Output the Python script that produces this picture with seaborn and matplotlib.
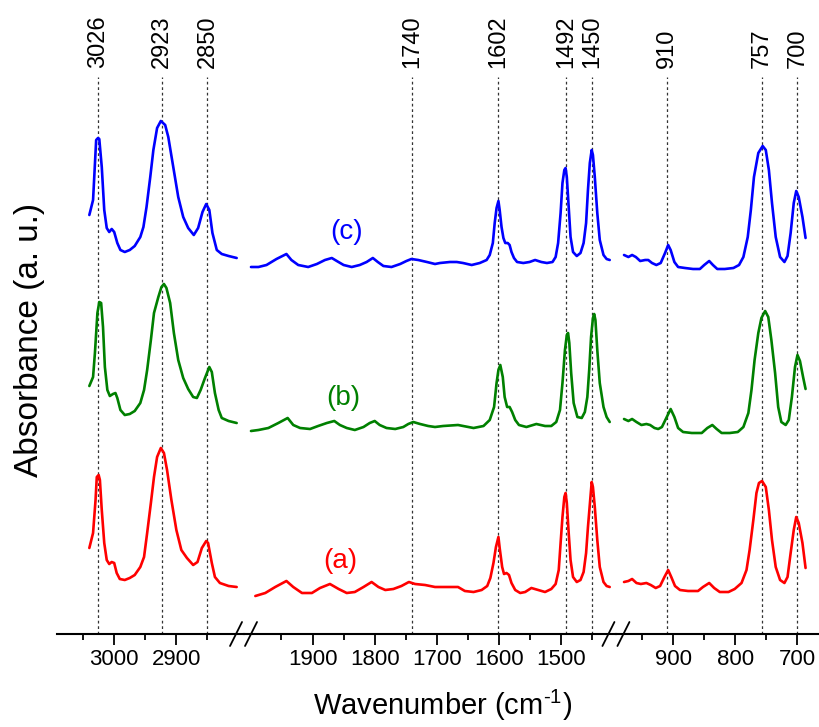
import matplotlib
matplotlib.use("Agg")
import matplotlib.pyplot as plt
from matplotlib.lines import Line2D
import seaborn as sn

sn.set_style("white")
plt.rcParams["font.family"] = ["Liberation Sans", "DejaVu Sans"]
plt.rcParams["mathtext.default"] = "regular"
plt.rcParams.update({"text.color": "black", "xtick.color": "black", "axes.labelcolor": "black"})

# spectra (wavenumber in cm-1, absorbance in a.u., curves stacked)
# segment 1: 3100-2800
wn1_c = [3040, 3034, 3029, 3026, 3024, 3020, 3016, 3012, 3008, 3004, 3000, 2995, 2990, 2983,
         2975, 2967, 2958, 2953, 2948, 2942, 2937, 2931, 2925, 2918, 2913, 2905, 2897, 2889,
         2881, 2872, 2865, 2858, 2852, 2847, 2842, 2835, 2827, 2816, 2803]
ab1_c = [4.19, 4.34, 4.94, 4.96, 4.95, 4.67, 4.24, 4.06, 4.02, 4.05, 4.02, 3.91, 3.84, 3.82,
         3.84, 3.88, 3.97, 4.07, 4.27, 4.57, 4.84, 5.06, 5.13, 5.09, 4.97, 4.67, 4.37, 4.17,
         4.06, 3.99, 4.06, 4.22, 4.30, 4.24, 4.01, 3.84, 3.80, 3.78, 3.76]
wn1_b = [3040, 3034, 3031, 3027, 3024, 3021, 3018, 3015, 3011, 3007, 3002, 2998, 2995, 2990,
         2983, 2975, 2967, 2958, 2952, 2947, 2941, 2936, 2929, 2924, 2920, 2916, 2910, 2904,
         2897, 2889, 2881, 2873, 2867, 2861, 2854, 2847, 2843, 2838, 2832, 2827, 2816, 2803]
ab1_b = [2.48, 2.57, 2.81, 3.21, 3.32, 3.31, 3.07, 2.67, 2.44, 2.38, 2.40, 2.41, 2.36, 2.24,
         2.19, 2.20, 2.23, 2.31, 2.44, 2.64, 2.94, 3.21, 3.37, 3.47, 3.50, 3.46, 3.31, 3.01,
         2.74, 2.56, 2.45, 2.37, 2.36, 2.44, 2.56, 2.67, 2.62, 2.41, 2.24, 2.16, 2.13, 2.11]
wn1_a = [3040, 3034, 3030, 3028, 3025, 3023, 3020, 3016, 3012, 3008, 3004, 3000, 2996, 2991,
         2983, 2975, 2967, 2958, 2952, 2947, 2941, 2936, 2931, 2925, 2920, 2915, 2908, 2900,
         2892, 2883, 2873, 2866, 2859, 2852, 2849, 2843, 2838, 2830, 2816, 2803]
ab1_a = [0.86, 1.01, 1.34, 1.57, 1.59, 1.54, 1.24, 0.91, 0.74, 0.70, 0.72, 0.71, 0.61, 0.55,
         0.54, 0.56, 0.59, 0.67, 0.77, 1.01, 1.31, 1.57, 1.77, 1.86, 1.81, 1.64, 1.34, 1.04,
         0.84, 0.76, 0.69, 0.72, 0.86, 0.93, 0.91, 0.71, 0.57, 0.51, 0.48, 0.47]

# segment 2: 2000-1420
wn2_c = [1999, 1987, 1974, 1958, 1942, 1934, 1923, 1907, 1893, 1880, 1869, 1861, 1850, 1837,
         1824, 1813, 1803, 1795, 1786, 1773, 1759, 1749, 1741, 1730, 1716, 1703,
         1695, 1679, 1668, 1658, 1644, 1631, 1620, 1615, 1610, 1607, 1604, 1601, 1599, 1596,
         1593, 1590, 1586, 1583, 1580, 1576, 1571, 1561, 1551, 1542, 1532, 1523, 1514, 1509,
         1505, 1501, 1498, 1495, 1493, 1491, 1488, 1485, 1481, 1475, 1469, 1464, 1460, 1457,
         1454, 1451, 1449, 1446, 1442, 1438, 1432, 1427, 1422]
ab2_c = [3.67, 3.67, 3.69, 3.75, 3.80, 3.74, 3.69, 3.67, 3.70, 3.74, 3.76, 3.73, 3.69, 3.67,
         3.69, 3.72, 3.76, 3.72, 3.68, 3.67, 3.70, 3.73, 3.75, 3.74, 3.72, 3.70,
         3.71, 3.72, 3.72, 3.71, 3.69, 3.71, 3.74, 3.79, 3.91, 4.11, 4.26, 4.33, 4.24, 4.07,
         3.96, 3.91, 3.91, 3.89, 3.82, 3.76, 3.72, 3.71, 3.72, 3.74, 3.72, 3.71, 3.72, 3.77,
         3.91, 4.21, 4.51, 4.64, 4.66, 4.57, 4.27, 3.97, 3.82, 3.78, 3.81, 3.91, 4.11, 4.44,
         4.71, 4.84, 4.79, 4.57, 4.21, 3.94, 3.79, 3.75, 3.74]
wn2_b = [1999, 1987, 1971, 1955, 1940, 1931, 1920, 1904, 1891, 1877, 1865, 1856, 1845, 1832,
         1818, 1808, 1800, 1792, 1781, 1767, 1754, 1746, 1738, 1727, 1714, 1703,
         1690, 1666, 1641, 1625, 1615, 1608, 1604, 1601, 1598, 1594, 1591, 1587, 1583, 1579,
         1574, 1568, 1556, 1540, 1526, 1516, 1508, 1502, 1498, 1494, 1491, 1489, 1487, 1484,
         1480, 1474, 1467, 1462, 1458, 1455, 1452, 1449, 1447, 1445, 1442, 1438, 1432, 1427, 1422]
ab2_b = [2.03, 2.04, 2.06, 2.11, 2.16, 2.09, 2.06, 2.05, 2.08, 2.11, 2.13, 2.09, 2.06, 2.04,
         2.07, 2.11, 2.13, 2.09, 2.06, 2.05, 2.07, 2.10, 2.12, 2.10, 2.08, 2.07,
         2.08, 2.09, 2.06, 2.08, 2.14, 2.27, 2.51, 2.64, 2.69, 2.57, 2.37, 2.27, 2.27, 2.22,
         2.14, 2.09, 2.07, 2.10, 2.08, 2.08, 2.12, 2.24, 2.51, 2.84, 2.99, 3.01, 2.91, 2.61,
         2.31, 2.17, 2.16, 2.22, 2.37, 2.64, 2.97, 3.16, 3.20, 3.14, 2.84, 2.51, 2.27, 2.17, 2.12]
wn2_a = [1992, 1976, 1960, 1942, 1931, 1917, 1901, 1888, 1872, 1858, 1845, 1832, 1818, 1805,
         1794, 1783, 1770, 1757, 1745, 1735, 1719, 1703,
         1695, 1679, 1666, 1655, 1641, 1628, 1619, 1614, 1609, 1605, 1601, 1599, 1595, 1592,
         1588, 1584, 1580, 1574, 1566, 1558, 1548, 1537, 1526, 1516, 1509, 1504, 1501, 1498,
         1495, 1493, 1491, 1488, 1485, 1481, 1475, 1469, 1464, 1460, 1457, 1453, 1451, 1449,
         1446, 1442, 1438, 1432, 1427, 1422]
ab2_a = [0.38, 0.41, 0.47, 0.53, 0.47, 0.41, 0.41, 0.46, 0.50, 0.45, 0.41, 0.42, 0.47, 0.52,
         0.47, 0.44, 0.45, 0.48, 0.52, 0.50, 0.49, 0.47,
         0.47, 0.47, 0.47, 0.43, 0.42, 0.44, 0.48, 0.56, 0.71, 0.87, 0.97, 0.86, 0.67, 0.60,
         0.61, 0.59, 0.51, 0.44, 0.41, 0.42, 0.46, 0.44, 0.42, 0.45, 0.50, 0.64, 0.91, 1.17,
         1.37, 1.41, 1.31, 1.01, 0.74, 0.57, 0.52, 0.54, 0.62, 0.81, 1.07, 1.37, 1.52, 1.47,
         1.27, 0.94, 0.67, 0.52, 0.48, 0.47]

# segment 3: 980-685
wn3_c = [979, 972, 966, 960, 953, 945, 940, 934, 927, 920, 913, 908, 904, 898, 892, 881, 868,
         857, 850, 842, 836, 829, 817, 803, 794, 787, 780, 775, 770, 763, 756, 751, 746, 741,
         735, 728, 721, 716, 711, 706, 702, 698, 692, 687]
ab3_c = [3.79, 3.77, 3.79, 3.77, 3.73, 3.74, 3.74, 3.71, 3.69, 3.71, 3.81, 3.89, 3.84, 3.72,
         3.67, 3.66, 3.65, 3.65, 3.69, 3.73, 3.69, 3.65, 3.65, 3.66, 3.69, 3.77, 3.97, 4.24,
         4.57, 4.81, 4.88, 4.84, 4.64, 4.31, 3.97, 3.77, 3.72, 3.78, 4.01, 4.31, 4.43, 4.37,
         4.17, 3.96]
wn3_b = [979, 972, 966, 959, 951, 943, 937, 930, 924, 918, 911, 904, 898, 892, 884, 870, 854,
         845, 837, 830, 822, 809, 796, 787, 779, 774, 769, 763, 758, 752, 747, 742, 736, 731,
         726, 719, 714, 709, 704, 700, 696, 691, 687]
ab3_b = [2.15, 2.13, 2.15, 2.12, 2.09, 2.10, 2.09, 2.06, 2.05, 2.07, 2.16, 2.25, 2.17, 2.06,
         2.02, 2.01, 2.01, 2.06, 2.09, 2.05, 2.01, 2.01, 2.02, 2.07, 2.21, 2.44, 2.74, 3.01,
         3.16, 3.23, 3.17, 2.94, 2.61, 2.27, 2.12, 2.09, 2.14, 2.37, 2.67, 2.79, 2.73, 2.57, 2.45]
wn3_a = [979, 972, 966, 959, 952, 943, 936, 928, 921, 914, 908, 903, 897, 889, 876, 860, 852,
         842, 834, 825, 811, 801, 790, 782, 777, 771, 766, 762, 757, 751, 746, 741, 735, 728,
         721, 716, 711, 706, 702, 698, 692, 687]
ab3_a = [0.52, 0.53, 0.55, 0.51, 0.50, 0.51, 0.49, 0.46, 0.48, 0.57, 0.64, 0.57, 0.48, 0.44,
         0.43, 0.43, 0.47, 0.51, 0.46, 0.42, 0.42, 0.45, 0.51, 0.64, 0.84, 1.14, 1.41, 1.51,
         1.53, 1.47, 1.24, 0.94, 0.67, 0.54, 0.51, 0.57, 0.81, 1.04, 1.17, 1.11, 0.91, 0.66]

# marked bands per segment
bands1 = [3026, 2923, 2850]
bands2 = [1740, 1602, 1492, 1450]
bands3 = [910, 757, 700]

xlims = [(3092, 2792), (2011, 1412), (992, 667)]
major_ticks = [[3000, 2900], [1900, 1800, 1700, 1600, 1500], [900, 800, 700]]
minor_ticks = [[3050, 2950, 2850], [1950, 1850, 1750, 1650, 1550, 1450], [950, 850, 750]]

colors = {"a": "#ff0000", "b": "#008000", "c": "#0000ff"}

#%%
W, H = 820, 727
fig = plt.figure(figsize=(W / 100, H / 100), dpi=100)
widths = [abs(a - b) for a, b in xlims]
gs = fig.add_gridspec(1, 3, width_ratios=widths, wspace=0,
                      left=57 / W, right=818 / W, bottom=1 - 634 / H, top=1 - 77 / H)
axes = [fig.add_subplot(gs[0, i]) for i in range(3)]

segments = [
    [(wn1_a, ab1_a, "a"), (wn1_b, ab1_b, "b"), (wn1_c, ab1_c, "c")],
    [(wn2_a, ab2_a, "a"), (wn2_b, ab2_b, "b"), (wn2_c, ab2_c, "c")],
    [(wn3_a, ab3_a, "a"), (wn3_b, ab3_b, "b"), (wn3_c, ab3_c, "c")],
]
bands = [bands1, bands2, bands3]

for i, ax in enumerate(axes):
    for wn, ab, key in segments[i]:
        sn.lineplot(x=wn, y=ab, ax=ax, color=colors[key], linewidth=1.9,
                    sort=False, estimator=None)
    for b in bands[i]:
        ax.axvline(b, color="#333333", linestyle=(0, (2.2, 2.2)), linewidth=0.9, zorder=0)
        ax.annotate(str(b), xy=(b, 1), xycoords=("data", "axes fraction"),
                    xytext=(0, 6.5), textcoords="offset points",
                    rotation=90, ha="center", va="bottom", fontsize=17)
    ax.set_xlim(*xlims[i])
    ax.set_ylim(0, 5.57)
    ax.set_yticks([])
    ax.set_xticks(major_ticks[i])
    ax.set_xticks(minor_ticks[i], minor=True)
    ax.tick_params(axis="x", which="major", direction="out", length=8, width=1.3,
                   labelsize=16, pad=3, bottom=True)
    ax.tick_params(axis="x", which="minor", direction="out", length=4.5, width=1.3, bottom=True)
    for s in ["top", "right", "left"]:
        ax.spines[s].set_visible(False)
    ax.spines["bottom"].set_linewidth(1.5)
    ax.spines["bottom"].set_color("black")
    ax.set_xlabel("")
    ax.set_ylabel("")
    ax.patch.set_alpha(0)

# sample labels
axes[1].text(1846, 4.02, "(c)", color=colors["c"], fontsize=20, ha="center", va="center")
axes[1].text(1850, 2.36, "(b)", color=colors["b"], fontsize=20, ha="center", va="center")
axes[1].text(1855, 0.73, "(a)", color=colors["a"], fontsize=20, ha="center", va="center")

# axis break marks
fig.canvas.draw()
y0 = 1 - 634 / H
for ax in axes[:2]:
    xb = ax.get_position().x1
    for off in (-7.5, 7.5):
        fig.add_artist(Line2D([xb + (off - 6) / W, xb + (off + 6) / W],
                              [y0 - 12 / H, y0 + 12 / H],
                              transform=fig.transFigure, color="black", linewidth=1.3))

fig.text(443 / W, 1 - 705 / H, "Wavenumber (cm$^{\u2010 1}$)", ha="center", va="center",
         fontsize=21)
fig.text(30 / W, 1 - 340 / H, "Absorbance (a. u.)", rotation=90, ha="center", va="center",
         fontsize=24)

fig.savefig("out.png", dpi=100)
